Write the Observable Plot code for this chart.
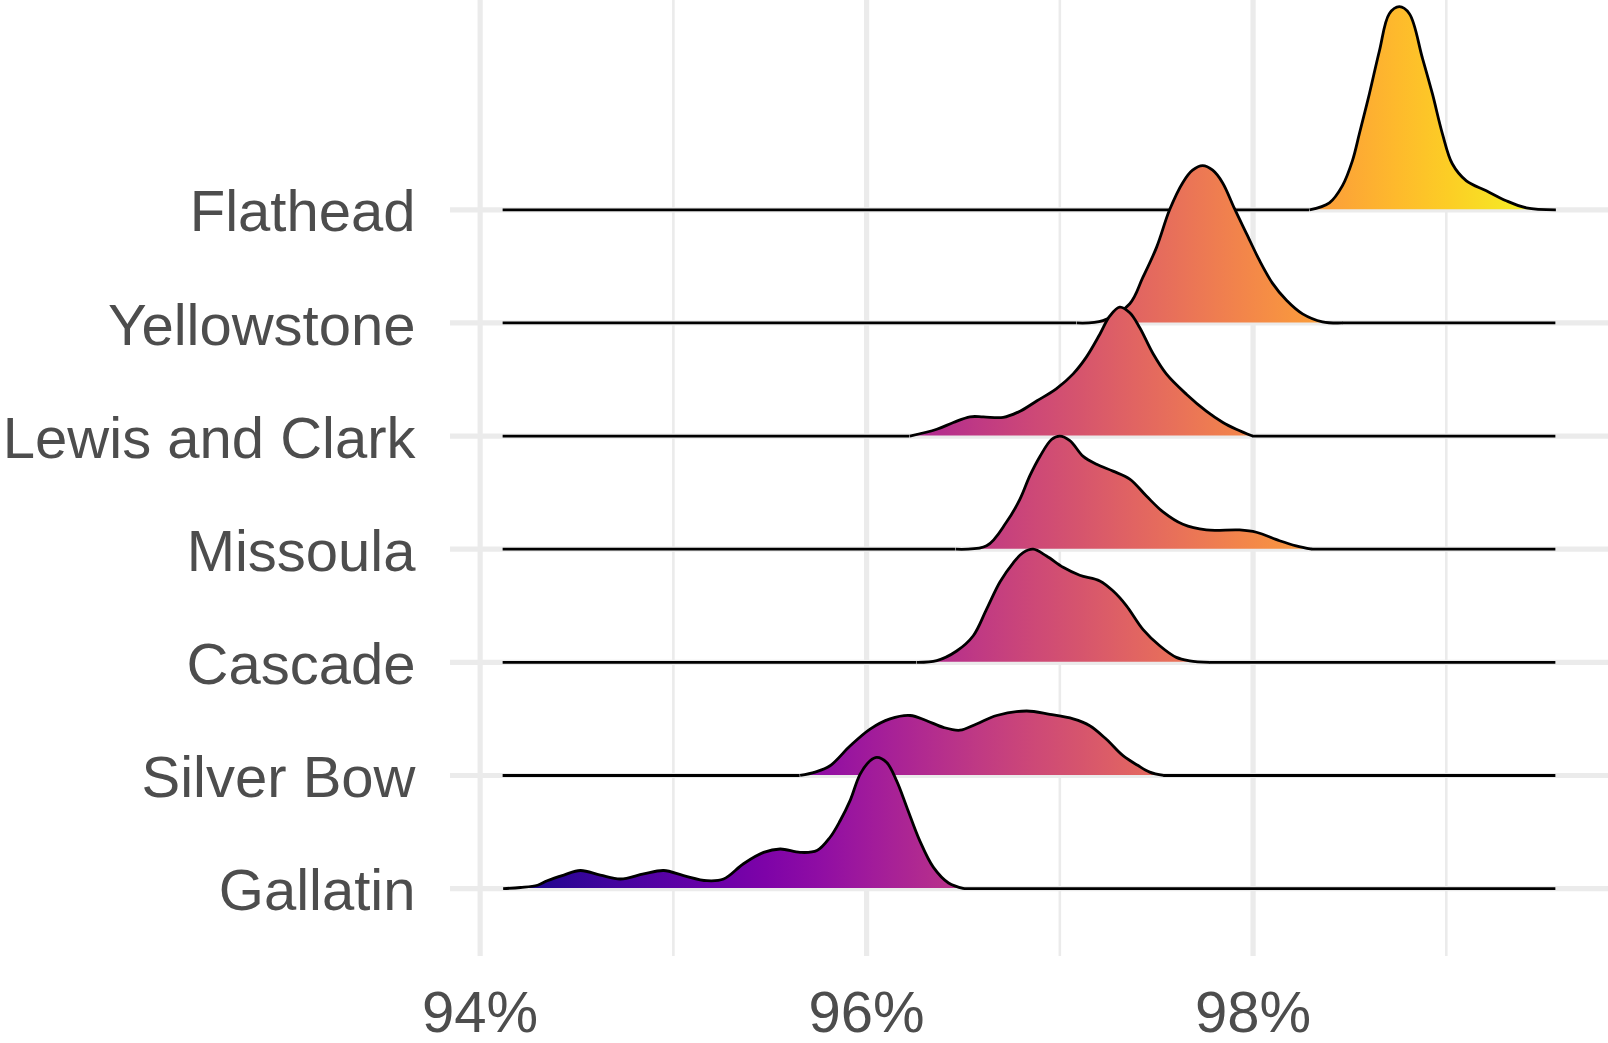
<!DOCTYPE html>
<html><head><meta charset="utf-8">
<script src="https://cdn.jsdelivr.net/npm/d3@7"></script>
<script src="https://cdn.jsdelivr.net/npm/@observablehq/plot@0.6"></script>
<style>body{margin:0;background:#fff;} svg{display:block}</style>
</head><body><div id="chart"></div>
<script>
// Categories, bottom to top
const counties = ["Gallatin", "Silver Bow", "Cascade", "Missoula", "Lewis and Clark", "Yellowstone", "Flathead"];

// Ridge profiles: [x (%), scaled density height (row units)]
const gallatin = [
  [94.119,0],[94.209,0.01],[94.297,0.03],[94.347,0.07],[94.433,0.12],[94.519,0.16],[94.622,0.12],
  [94.726,0.085],[94.846,0.13],[94.950,0.16],[95.053,0.115],[95.174,0.07],[95.260,0.085],[95.363,0.22],
  [95.467,0.32],[95.553,0.35],[95.656,0.32],[95.743,0.336],[95.811,0.454],[95.863,0.60],[95.915,0.78],
  [95.966,1.01],[96.018,1.13],[96.053,1.16],[96.104,1.115],[96.156,0.95],[96.208,0.72],[96.276,0.42],
  [96.345,0.19],[96.424,0.05],[96.504,0]
];
const silverBow = [
  [95.656,0],[95.734,0.03],[95.811,0.086],[95.914,0.26],[96.018,0.41],[96.121,0.50],[96.225,0.53],
  [96.311,0.484],[96.397,0.425],[96.483,0.40],[96.569,0.455],[96.673,0.53],[96.828,0.57],[96.948,0.54],
  [97.069,0.50],[97.155,0.44],[97.241,0.32],[97.327,0.175],[97.403,0.09],[97.465,0.03],[97.537,0]
];
const cascade = [
  [96.260,0],[96.363,0.015],[96.466,0.10],[96.552,0.235],[96.621,0.47],[96.690,0.71],[96.759,0.88],
  [96.810,0.97],[96.862,1.00],[96.931,0.94],[97.017,0.84],[97.103,0.77],[97.207,0.72],[97.276,0.63],
  [97.345,0.50],[97.431,0.29],[97.517,0.147],[97.603,0.044],[97.672,0.014],[97.775,0]
];
const missoula = [
  [96.462,0],[96.621,0.03],[96.724,0.24],[96.793,0.44],[96.845,0.65],[96.897,0.82],[96.957,0.97],
  [97.000,1.00],[97.052,0.96],[97.121,0.82],[97.190,0.75],[97.275,0.69],[97.362,0.62],[97.448,0.47],
  [97.534,0.33],[97.637,0.22],[97.758,0.17],[97.930,0.17],[98.017,0.15],[98.137,0.075],[98.223,0.03],[98.305,0]
];
const lewisAndClark = [
  [96.224,0],[96.363,0.06],[96.449,0.12],[96.535,0.17],[96.604,0.17],[96.707,0.165],[96.794,0.22],
  [96.880,0.31],[96.983,0.42],[97.069,0.55],[97.138,0.70],[97.207,0.90],[97.258,1.06],[97.310,1.14],
  [97.362,1.09],[97.413,0.96],[97.482,0.73],[97.551,0.55],[97.655,0.37],[97.758,0.22],[97.844,0.12],
  [97.913,0.06],[97.997,0]
];
const yellowstone = [
  [97.088,0],[97.223,0.02],[97.362,0.17],[97.429,0.40],[97.501,0.67],[97.568,1.00],[97.636,1.24],
  [97.687,1.35],[97.739,1.39],[97.791,1.35],[97.842,1.24],[97.904,1.01],[97.966,0.79],[98.034,0.55],
  [98.101,0.35],[98.173,0.20],[98.256,0.08],[98.359,0.01],[98.463,0]
];
const flathead = [
  [98.292,0],[98.395,0.062],[98.462,0.212],[98.514,0.433],[98.550,0.672],[98.602,1.026],[98.654,1.406],
  [98.705,1.733],[98.757,1.795],[98.809,1.733],[98.876,1.344],[98.928,1.026],[98.980,0.672],[99.031,0.407],
  [99.104,0.256],[99.207,0.168],[99.310,0.080],[99.414,0.018],[99.567,0]
];

// Axis ticks
const xMajor = [94, 96, 98];
const xMinor = [95, 97, 99];
const xTickLabels = ["94%", "96%", "98%"];

const ridges = [gallatin, silverBow, cascade, missoula, lewisAndClark, yellowstone, flathead];

const allX = ridges.flat().map(d => d[0]);
const [xLo, xHi] = d3.extent(allX);
const pad = (xHi - xLo) * 0.05;

const rows = counties.map((name, i) =>
  ridges[i].map(([x, h]) => ({x, name, base: i, top: i + h}))
);
// flat baseline pieces of each ridge outside its own profile
const flats = counties.map((name, i) => {
  const pts = ridges[i];
  const a = pts[0][0], b = pts[pts.length - 1][0];
  const segs = [];
  if (a > xLo) segs.push({y: i, x1: xLo, x2: a});
  if (b < xHi) segs.push({y: i, x1: b, x2: xHi});
  return segs;
});

const marks = [
  Plot.ruleX(xMinor, {stroke: "#ebebeb", strokeWidth: 2.6}),
  Plot.ruleX(xMajor, {stroke: "#ebebeb", strokeWidth: 5.2}),
  Plot.ruleY(d3.range(counties.length), {stroke: "#ebebeb", strokeWidth: 5.2})
];
for (let i = counties.length - 1; i >= 0; i--) {
  marks.push(Plot.ruleY(flats[i], {y: "y", x1: "x1", x2: "x2", stroke: "#000", strokeWidth: 2.8}));
  marks.push(Plot.areaY(rows[i], {x: "x", y1: "base", y2: "top", fill: "url(#plasmaGrad)", curve: "catmull-rom"}));
  marks.push(Plot.line(rows[i], {x: "x", y: "top", stroke: "#000", strokeWidth: 2.8, curve: "catmull-rom", strokeLinejoin: "round", strokeLinecap: "butt"}));
}
marks.push(
  Plot.axisY({ticks: d3.range(counties.length), tickFormat: i => counties[i], tickSize: 0, tickPadding: 35, fontSize: 58, fill: "#4d4d4d", dy: 3, label: null}),
  Plot.axisX({ticks: xMajor, tickFormat: d => xTickLabels[xMajor.indexOf(d)], tickSize: 0, tickPadding: 34, fontSize: 58, fill: "#4d4d4d", label: null})
);

const chart = Plot.plot({
  width: 1608,
  height: 1043,
  marginLeft: 450,
  marginRight: 0,
  marginTop: 0,
  marginBottom: 87,
  style: {fontFamily: "'Liberation Sans', Arial, sans-serif", color: "#4d4d4d", background: "#fff"},
  x: {domain: [xLo - pad, xHi + pad], label: null},
  y: {domain: [-0.6, 7.85], label: null},
  marks
});

const xs = chart.scale("x");
const defs = d3.select(chart).insert("defs", ":first-child");
const grad = defs.append("linearGradient")
  .attr("id", "plasmaGrad")
  .attr("gradientUnits", "userSpaceOnUse")
  .attr("x1", xs.apply(xLo)).attr("x2", xs.apply(xHi))
  .attr("y1", 0).attr("y2", 0);
d3.range(0, 1.0001, 0.05).forEach(t => {
  grad.append("stop").attr("offset", t).attr("stop-color", d3.interpolatePlasma(t));
});

document.getElementById("chart").appendChild(chart);
</script>
</body></html>
